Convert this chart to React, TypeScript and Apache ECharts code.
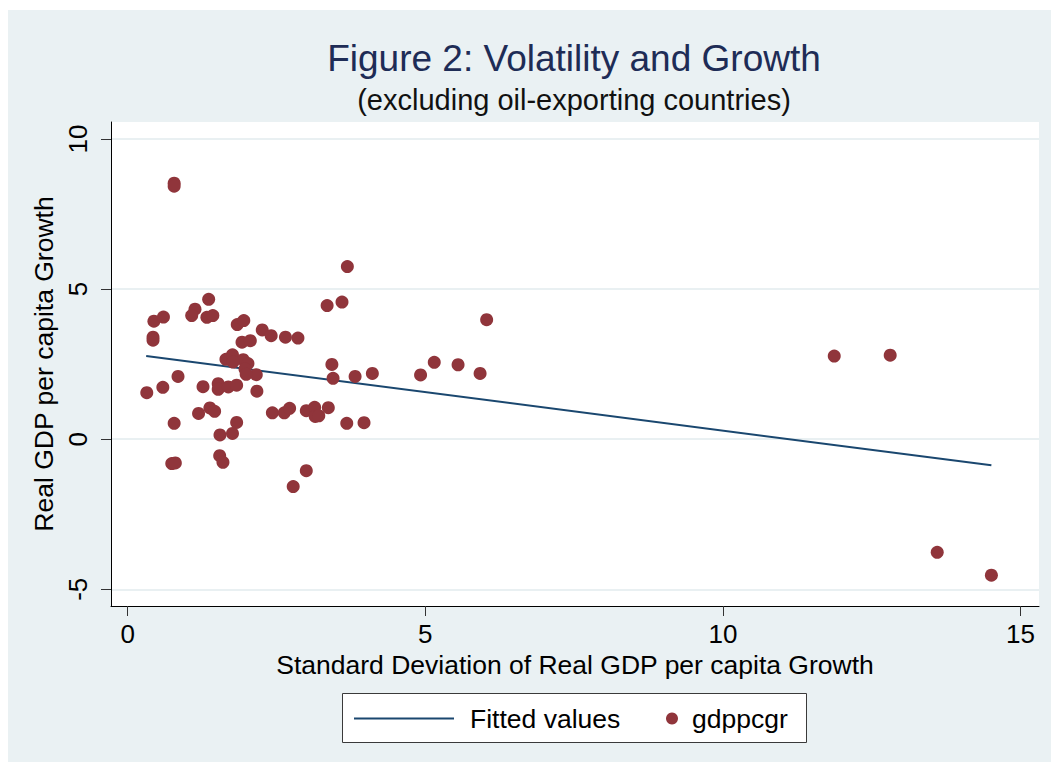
import React, { useEffect, useRef } from "react";
import * as echarts from "echarts";

// Standard deviation of real GDP per capita growth (x)
const volatility = [
  0.78, 0.78,
  0.44, 0.6, 1.13, 1.075, 1.36, 1.33, 1.43,
  1.84, 1.95, 2.26, 3.35, 3.6, 3.69,
  0.425, 0.425, 2.41, 2.65, 2.86, 1.92, 2.06,
  1.65, 1.76, 1.94, 2.02, 1.97, 2.16, 1.99, 1.77,
  0.845, 0.59, 0.32, 1.265, 1.52, 1.52, 1.69, 1.83, 2.17,
  1.19, 1.38, 1.46, 0.78, 1.83, 1.76, 1.55,
  2.43, 2.63, 2.72, 3.0, 3.14, 3.15, 3.21, 3.37,
  3.43, 3.45, 3.82, 4.11, 4.92, 5.15, 5.55, 5.92, 6.03,
  3.68, 3.97,
  0.74, 0.8, 1.545, 1.6, 3.0, 2.78,
  11.87, 12.81, 13.6, 14.51,
];
// Real GDP per capita growth (y)
const growth = [
  8.53, 8.43,
  3.93, 4.07, 4.33, 4.12, 4.66, 4.06, 4.12,
  3.82, 3.95, 3.64, 4.45, 4.57, 5.75,
  3.4, 3.3, 3.45, 3.4, 3.37, 3.23, 3.28,
  2.66, 2.81, 2.65, 2.52, 2.34, 2.15, 2.16, 2.57,
  2.09, 1.73, 1.55, 1.75, 1.85, 1.66, 1.74, 1.8, 1.6,
  0.86, 1.04, 0.93, 0.53, 0.56, 0.19, 0.14,
  0.88, 0.88, 1.03, 0.95, 1.06, 0.76, 0.78, 1.05,
  2.49, 2.03, 2.09, 2.19, 2.14, 2.56, 2.48, 2.19, 3.98,
  0.53, 0.55,
  -0.81, -0.79, -0.55, -0.77, -1.05, -1.58,
  2.77, 2.8, -3.77, -4.53,
];
// Fitted values (end points of the linear fit)
const fitX = [0.31, 14.51];
const fitY = [2.77, -0.87];

const xTicks = [0, 5, 10, 15];
const yTicks = [-5, 0, 5, 10];

export default function App() {
  const ref = useRef<HTMLDivElement>(null);
  useEffect(() => {
    const chart = echarts.init(ref.current!, null, { renderer: "svg" });
    const font = "'Liberation Sans', Arial, Helvetica, sans-serif";
    chart.setOption({
      animation: false,
      backgroundColor: "#ffffff",
      textStyle: { fontFamily: font },
      title: {
        text: "Figure 2: Volatility and Growth",
        subtext: "(excluding oil-exporting countries)",
        left: 574,
        top: 40,
        textAlign: "center",
        padding: 0,
        itemGap: 8,
        textStyle: { fontSize: 37, fontWeight: "normal", color: "#1e2c56", fontFamily: font },
        subtextStyle: { fontSize: 29, color: "#111111", fontFamily: font },
      },
      graphic: [
        {
          type: "rect",
          z: -10,
          silent: true,
          shape: { x: 8, y: 10, width: 1043, height: 752 },
          style: { fill: "#eaf1f3" },
        },
        {
          type: "rect",
          z: -5,
          silent: true,
          shape: { x: 342.5, y: 693.5, width: 464, height: 49 },
          style: { fill: "#ffffff", stroke: "#3a3a3a", lineWidth: 1 },
        },
      ],
      grid: {
        left: 111,
        top: 122,
        right: 12,
        bottom: 166,
        show: true,
        backgroundColor: "#ffffff",
        borderWidth: 0,
      },
      xAxis: {
        type: "value",
        min: -0.281,
        max: 15.31,
        name: "Standard Deviation of Real GDP per capita Growth",
        nameLocation: "middle",
        nameGap: 42,
        nameTextStyle: { fontSize: 26.5, color: "#000", fontFamily: font },
        axisLine: { show: true, onZero: false, lineStyle: { color: "#000", width: 1 } },
        axisTick: { show: true, inside: false, length: 10, customValues: xTicks, lineStyle: { color: "#333", width: 1 } },
        axisLabel: { customValues: xTicks, fontSize: 26, color: "#000", margin: 15, fontFamily: font },
        splitLine: { show: false },
      },
      yAxis: {
        type: "value",
        min: -5.557,
        max: 10.567,
        name: "Real GDP per capita Growth",
        nameLocation: "middle",
        nameGap: 40,
        nameTextStyle: { fontSize: 26.5, color: "#000", fontFamily: font },
        axisLine: { show: true, onZero: false, lineStyle: { color: "#000", width: 1 } },
        axisTick: { show: true, inside: false, length: 10, customValues: yTicks, lineStyle: { color: "#333", width: 1 } },
        axisLabel: { customValues: yTicks, rotate: 90, fontSize: 26, color: "#000", margin: 20, fontFamily: font },
        splitLine: { show: true, lineStyle: { color: "#e2ebee", width: 1.5 } },
      },
      legend: [
        {
          data: [{ name: "Fitted values", icon: "rect" }],
          left: 354,
          top: 705,
          padding: 0,
          itemWidth: 100,
          itemHeight: 2,
          selectedMode: false,
          textStyle: { fontSize: 26.5, color: "#000", fontFamily: font, padding: [0, 0, 0, 11] },
        },
        {
          data: [{ name: "gdppcgr", icon: "circle" }],
          left: 666,
          top: 705,
          padding: 0,
          itemWidth: 12,
          itemHeight: 12,
          selectedMode: false,
          textStyle: { fontSize: 26.5, color: "#000", fontFamily: font, padding: [0, 0, 0, 9] },
        },
      ],
      series: [
        {
          type: "line",
          name: "Fitted values",
          data: fitX.map((x, i) => [x, fitY[i]]),
          symbol: "none",
          lineStyle: { color: "#1a476f", width: 2 },
          itemStyle: { color: "#1a476f" },
          z: 2,
        },
        {
          type: "scatter",
          name: "gdppcgr",
          data: volatility.map((x, i) => [x, growth[i]]),
          symbolSize: 13,
          itemStyle: { color: "#90353b", opacity: 1 },
          z: 3,
        },
      ],
    });
    return () => chart.dispose();
  }, []);
  return (
    <div
      ref={ref}
      style={{ position: "fixed", left: 0, top: 0, width: 1051, height: 772, background: "#fff" }}
    />
  );
}
